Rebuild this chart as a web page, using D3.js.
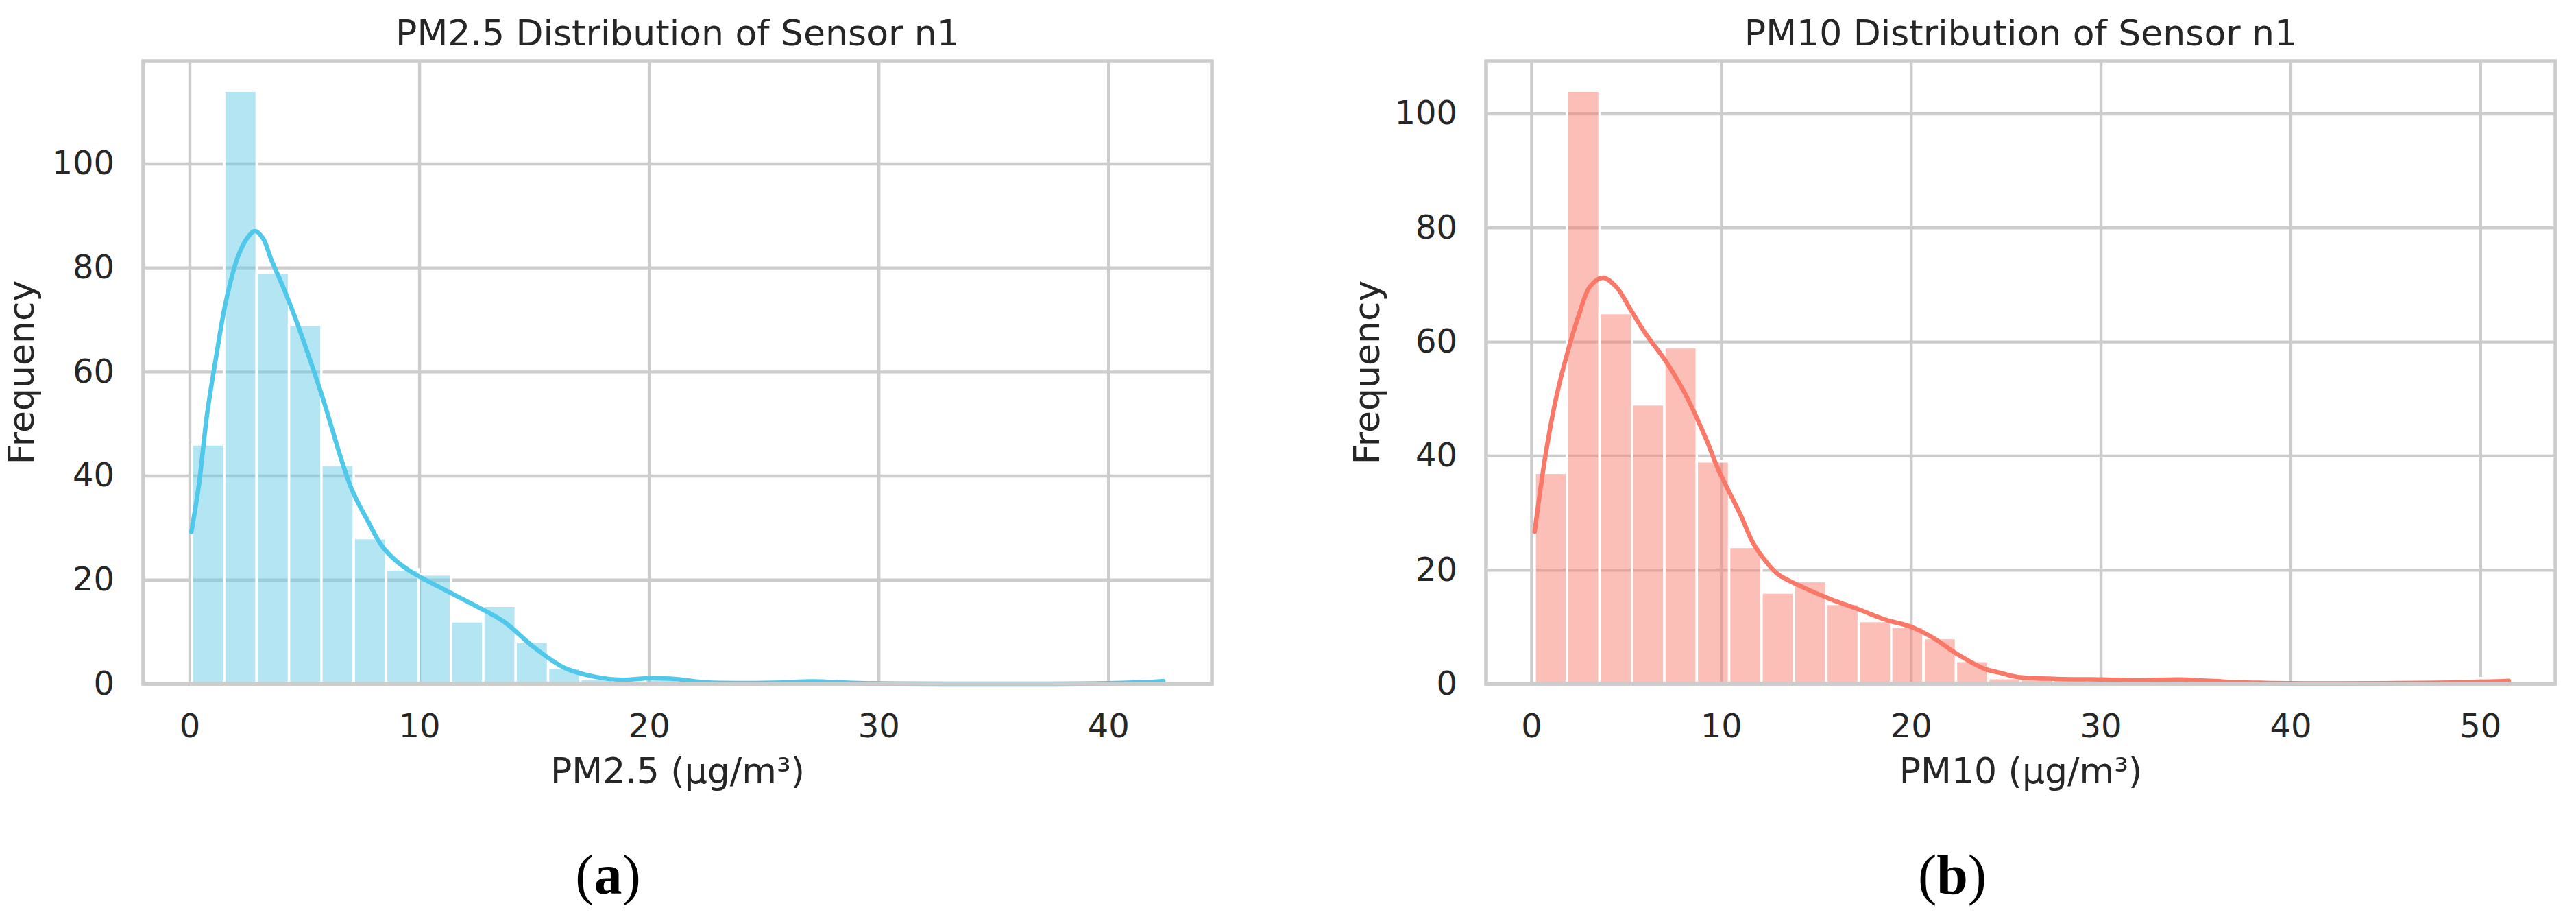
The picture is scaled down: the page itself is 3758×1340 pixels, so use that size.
<!DOCTYPE html>
<html>
<head>
<meta charset="utf-8">
<script src="https://cdn.jsdelivr.net/npm/d3@7"></script>
<style>
  body { margin: 0; background: #fff; }
  svg text { font-family: "DejaVu Sans", sans-serif; fill: #262626; }
</style>
</head>
<body>
<div id="chartCont"></div>
<script>
// histogram counts, 30 bins each
const pm25Counts = [46, 114, 79, 69, 42, 28, 22, 21, 12, 15, 8, 3, 1, 0, 1,
                    0, 0, 0, 0, 1, 0, 0, 0, 0, 0, 0, 0, 0, 0, 1];
const pm25Range = [0.1, 42.4];

const pm10Counts = [37, 104, 65, 49, 59, 39, 24, 16, 18, 14, 11, 10, 8, 4, 1,
                    1, 1, 0, 0, 0, 1, 0, 0, 0, 0, 0, 0, 0, 0, 1];
const pm10Range = [0.18, 51.4];

// kde curves, [x, count] pairs
const pm25Kde = [[0.08, 29.2], [0.4, 38], [0.77, 52], [1.2, 64], [1.57, 73.2], [2.1, 82], [2.5, 85.6],
  [2.85, 87], [3.2, 85.6], [3.56, 81.5], [4.1, 76], [4.63, 70], [5.7, 56.3], [7.03, 37.7],
  [7.8, 31], [8.36, 26.6], [9.0, 23.6], [9.7, 21.4], [11.0, 18.3], [12.36, 15.2], [13.7, 11.9],
  [15.0, 7.0], [16.36, 3.0], [17.7, 1.3], [18.8, 0.75], [20.1, 1.1], [21.2, 0.9], [22.5, 0.25],
  [25.5, 0.2], [27.1, 0.45], [29.4, 0.1], [40, 0.1], [41.5, 0.3], [42.4, 0.5]];

const pm10Kde = [[0.18, 26.7], [0.73, 39.7], [1.3, 50], [1.94, 58.5], [2.49, 64.5], [3.1, 69.7],
  [3.78, 71.2], [4.5, 69.5], [5.25, 65.5], [6.0, 61.5], [7.1, 56.5], [8.0, 51.5], [8.6, 47.5],
  [9.3, 42.2], [9.86, 37.5], [11.0, 29.8], [11.7, 24.6], [12.4, 21.3], [13.0, 19.2], [14.46, 16.7],
  [15.8, 14.8], [17.2, 13.1], [18.7, 11.2], [20.0, 10.0], [21.2, 8.0], [22.4, 5.3], [23.9, 2.6],
  [24.6, 2.0], [25.6, 1.2], [27.7, 0.85], [30, 0.76], [32, 0.6], [34.1, 0.76], [35.8, 0.5],
  [38.4, 0.17], [47.8, 0.17], [50.5, 0.35], [51.5, 0.5]];

const pm25Ticks = [0, 10, 20, 30, 40];
const pm10Ticks = [0, 10, 20, 30, 40, 50];
const freqTicks = [0, 20, 40, 60, 80, 100];

const titles = ["PM2.5 Distribution of Sensor n1", "PM10 Distribution of Sensor n1"];
const xLabels = ["PM2.5 (μg/m³)", "PM10 (μg/m³)"];
const panelTags = ["a", "b"];

let width = 3758,
  height = 1340;

let svg = d3.select("#chartCont")
  .append("svg")
  .attr("width", width)
  .attr("height", height);

svg.append("rect").attr("width", width).attr("height", height).attr("fill", "#fff");

let plotTop = 89, plotBottom = 997;

function drawPanel(p) {
  let g = svg.append("g");
  let n = p.counts.length;
  let bw = (p.range[1] - p.range[0]) / n;
  let pad = (p.range[1] - p.range[0]) * 0.05;

  let x = d3.scaleLinear()
    .domain([p.range[0] - pad, p.range[1] + pad])
    .range([p.left, p.right]);
  let y = d3.scaleLinear()
    .domain([0, d3.max(p.counts) * 1.05])
    .range([plotBottom, plotTop]);

  // grid under everything
  g.append("g")
    .attr("transform", "translate(0," + plotBottom + ")")
    .call(d3.axisBottom(x).tickValues(p.xTicks).tickSize(-(plotBottom - plotTop)).tickFormat(""))
    .call(s => s.select(".domain").remove())
    .selectAll("line").attr("stroke", "#cccccc").attr("stroke-width", 4.4);
  g.append("g")
    .attr("transform", "translate(" + p.left + ",0)")
    .call(d3.axisLeft(y).tickValues(freqTicks).tickSize(-(p.right - p.left)).tickFormat(""))
    .call(s => s.select(".domain").remove())
    .selectAll("line").attr("stroke", "#cccccc").attr("stroke-width", 4.4);

  // bars
  g.selectAll(".bar")
    .data(p.counts)
    .enter().append("rect")
    .attr("class", "bar")
    .attr("x", (d, i) => x(p.range[0] + i * bw))
    .attr("width", (d, i) => x(p.range[0] + (i + 1) * bw) - x(p.range[0] + i * bw))
    .attr("y", d => y(d))
    .attr("height", d => y(0) - y(d))
    .attr("fill", p.barColor)
    .attr("fill-opacity", 0.5)
    .attr("stroke", "#fff")
    .attr("stroke-width", 3.5);

  // kde
  let line = d3.line()
    .x(d => x(d[0]))
    .y(d => y(d[1]))
    .curve(d3.curveCatmullRom.alpha(0.5));
  g.append("path")
    .datum(p.kde)
    .attr("d", line)
    .attr("fill", "none")
    .attr("stroke", p.lineColor)
    .attr("stroke-width", 6.5)
    .attr("stroke-linecap", "round")
    .attr("stroke-linejoin", "round");

  // frame
  g.append("rect")
    .attr("x", p.left).attr("y", plotTop)
    .attr("width", p.right - p.left).attr("height", plotBottom - plotTop)
    .attr("fill", "none")
    .attr("stroke", "#cccccc")
    .attr("stroke-width", 5.5);

  // tick labels
  let xa = g.append("g")
    .attr("transform", "translate(0," + plotBottom + ")")
    .call(d3.axisBottom(x).tickValues(p.xTicks).tickSize(0).tickPadding(44).tickFormat(d3.format("d")));
  xa.select(".domain").remove();
  xa.selectAll("text").attr("font-size", 48).attr("font-family", "DejaVu Sans").attr("fill", "#262626");

  let ya = g.append("g")
    .attr("transform", "translate(" + p.left + ",0)")
    .call(d3.axisLeft(y).tickValues(freqTicks).tickSize(0).tickPadding(42).tickFormat(d3.format("d")));
  ya.select(".domain").remove();
  ya.selectAll("text").attr("font-size", 48).attr("font-family", "DejaVu Sans").attr("fill", "#262626");

  let cx = (p.left + p.right) / 2;
  g.append("text")
    .attr("x", cx).attr("y", 66)
    .attr("text-anchor", "middle")
    .attr("font-size", 52)
    .text(p.title);

  g.append("text")
    .attr("x", cx).attr("y", 1142)
    .attr("text-anchor", "middle")
    .attr("font-size", 52)
    .text(p.xLabel);

  g.append("text")
    .attr("transform", "translate(" + p.yLabelX + "," + (plotTop + plotBottom) / 2 + ") rotate(-90)")
    .attr("text-anchor", "middle")
    .attr("font-size", 52)
    .text("Frequency");

  // (a) / (b)
  let tag = g.append("text")
    .attr("x", p.tagX).attr("y", 1303)
    .attr("text-anchor", "middle")
    .attr("font-size", 82)
    .style("font-family", "'Liberation Serif', serif")
    .style("fill", "#000");
  tag.append("tspan").text("(");
  tag.append("tspan").attr("font-weight", "bold").text(p.tag);
  tag.append("tspan").text(")");
}

drawPanel({
  counts: pm25Counts, range: pm25Range, kde: pm25Kde, xTicks: pm25Ticks,
  left: 209, right: 1768, yLabelX: 49, tagX: 887,
  barColor: "#67cbe7", lineColor: "#4fc8ea",
  title: titles[0], xLabel: xLabels[0], tag: panelTags[0]
});

drawPanel({
  counts: pm10Counts, range: pm10Range, kde: pm10Kde, xTicks: pm10Ticks,
  left: 2168, right: 3728, yLabelX: 2012, tagX: 2848,
  barColor: "#fa8072", lineColor: "#f97868",
  title: titles[1], xLabel: xLabels[1], tag: panelTags[1]
});
</script>
</body>
</html>
